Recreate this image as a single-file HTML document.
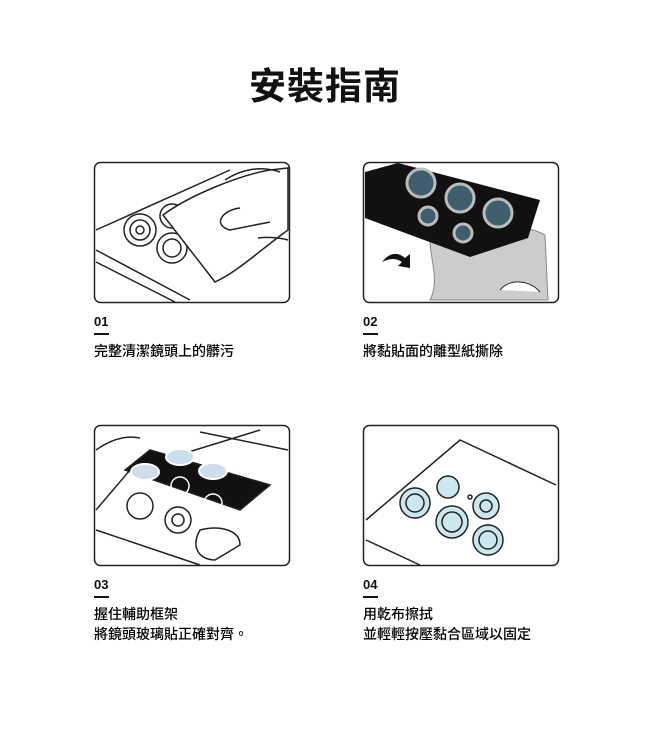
<!DOCTYPE html>
<html><head><meta charset="utf-8"><style>
body{margin:0;width:650px;height:756px;background:#fff;font-family:"Liberation Sans","Noto Sans CJK TC",sans-serif;color:#111;position:relative;overflow:hidden}
.t{position:absolute;left:0;width:650px;top:56px;text-align:center;font-size:37px;font-weight:bold;letter-spacing:1px}
.num{position:absolute;font-size:13px;font-weight:bold}
.num:after{content:"";position:absolute;left:0;top:19px;width:15px;height:2px;background:#111}
.d{position:absolute;font-size:14px;line-height:20px;font-weight:500;color:#000}
svg{position:absolute;left:0;top:0}
</style></head><body>
<div class="t">安裝指南</div>
<svg width="650" height="756">
<g fill="none" stroke="#222" stroke-width="1.5">
<rect x="94.5" y="162.5" width="195" height="140" rx="6"/>
<rect x="363.5" y="162.5" width="195" height="140" rx="6"/>
<rect x="94.5" y="425.5" width="195" height="140" rx="6"/>
<rect x="363.5" y="425.5" width="195" height="140" rx="6"/>
</g>
<!-- panel 1 -->
<g stroke="#222" stroke-width="1.5" fill="none">
<path d="M96 230 L230 170"/><path d="M96 250 L190 300"/><path d="M96 262 L175 302"/>
<circle cx="140" cy="230" r="16"/><circle cx="140" cy="230" r="10"/><circle cx="140" cy="230" r="4"/>
<circle cx="172" cy="248" r="15"/><circle cx="172" cy="248" r="9"/>
<circle cx="172" cy="216" r="12"/>
<path d="M163 215 C190 195 240 175 270 170 L288 168 L288 230 C260 250 240 270 215 282 Z" fill="#fff"/>
<path d="M225 180 C240 170 260 165 280 172 M240 208 C222 210 212 225 230 230 L270 222 M258 238 C275 236 288 240 288 240"/>
</g>
<!-- panel 2 -->
<g>
<path d="M430 240 C470 230 520 220 545 235 L548 300 L430 300 C440 280 430 260 430 240Z" fill="#ccc" stroke="#888"/>
<path d="M365 172 L398 163 L540 200 L528 238 L470 257 L365 218Z" fill="#111"/>
<g fill="#3f5f6d" stroke="#bbb" stroke-width="3">
<circle cx="421" cy="183" r="14"/><circle cx="460" cy="198" r="14"/><circle cx="498" cy="213" r="14"/>
<circle cx="428" cy="216" r="9"/><circle cx="463" cy="233" r="9"/></g>
<path d="M382 262 C390 252 398 252 405 258 L410 254 L410 268 L398 266 L402 262 C396 258 390 258 382 262Z" fill="#111"/>
<path d="M500 290 C510 278 530 280 540 292" fill="#fff" stroke="#222"/>
</g>
<!-- panel 3 -->
<g stroke="#222" stroke-width="1.5" fill="none">
<path d="M96 510 L130 470 L260 430 M200 432 L288 450 M96 530 L200 565"/>
<path d="M125 470 L150 450 L270 485 L240 510 Z" fill="#111"/>
<g fill="#cde" stroke="#fff" stroke-width="2"><ellipse cx="145" cy="472" rx="14" ry="8"/><ellipse cx="180" cy="457" rx="14" ry="8"/><ellipse cx="213" cy="471" rx="14" ry="8"/></g>
<g stroke="#fff"><circle cx="180" cy="486" r="9"/><circle cx="213" cy="503" r="9"/></g>
<circle cx="140" cy="506" r="13"/><circle cx="178" cy="520" r="13"/><circle cx="178" cy="520" r="6"/>
<path d="M200 530 C220 525 240 530 240 545 L215 560 C200 560 190 548 200 530Z" fill="#fff"/>
<path d="M96 450 C110 440 125 435 140 438"/>
</g>
<!-- panel 4 -->
<g stroke="#222" stroke-width="1.5" fill="none">
<path d="M366 520 L460 440 L556 485 M366 540 L420 565"/>
<g fill="#cce8ef"><circle cx="415" cy="503" r="15"/><circle cx="448" cy="487" r="11"/><circle cx="486" cy="506" r="13"/><circle cx="452" cy="522" r="16"/><circle cx="488" cy="540" r="15"/></g>
<circle cx="415" cy="503" r="9"/><circle cx="452" cy="522" r="10"/><circle cx="488" cy="540" r="9"/><circle cx="486" cy="506" r="6"/><circle cx="470" cy="497" r="2"/>
</g>
</svg>
<div class="num" style="left:94px;top:314px">01</div>
<div class="num" style="left:363px;top:314px">02</div>
<div class="num" style="left:94px;top:577px">03</div>
<div class="num" style="left:363px;top:577px">04</div>
<div class="d" style="left:94px;top:341px">完整清潔鏡頭上的髒污</div>
<div class="d" style="left:363px;top:341px">將黏貼面的離型紙撕除</div>
<div class="d" style="left:94px;top:604px">握住輔助框架<br>將鏡頭玻璃貼正確對齊。</div>
<div class="d" style="left:363px;top:604px">用乾布擦拭<br>並輕輕按壓黏合區域以固定</div>
</body></html>
